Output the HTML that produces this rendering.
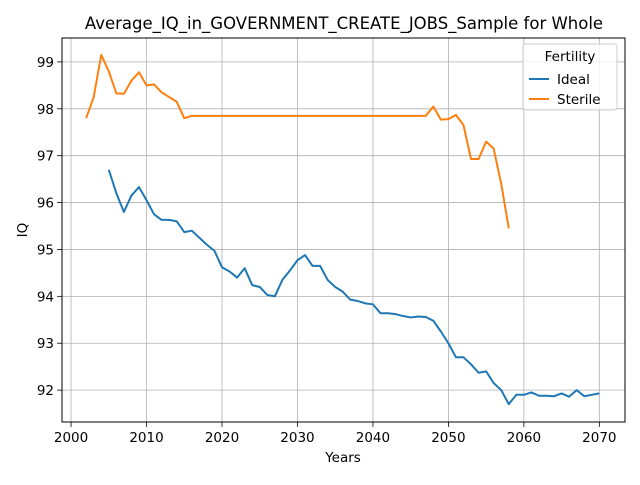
<!DOCTYPE html>
<html><head><meta charset="utf-8"><style>
body{margin:0;background:#fff;font-family:"Liberation Sans","DejaVu Sans",sans-serif}
</style></head><body>
<svg id="c" width="640" height="480" xmlns="http://www.w3.org/2000/svg" font-family="DejaVu Sans, Liberation Sans, sans-serif"></svg>
<script>
const years0 = 2002;
const sterileValues = [97.8,98.25,99.15,98.8,98.33,98.32,98.6,98.78,98.5,98.52,98.35,98.25,98.15,97.8,97.85,97.85,97.85,97.85,97.85,97.85,97.85,97.85,97.85,97.85,97.85,97.85,97.85,97.85,97.85,97.85,97.85,97.85,97.85,97.85,97.85,97.85,97.85,97.85,97.85,97.85,97.85,97.85,97.85,97.85,97.85,97.85,98.05,97.77,97.78,97.87,97.65,96.93,96.93,97.3,97.15,96.4,95.45];
const idealStart = 2005;
const idealValues = [96.7,96.2,95.8,96.15,96.33,96.05,95.75,95.63,95.63,95.6,95.37,95.4,95.25,95.1,94.97,94.62,94.53,94.4,94.6,94.24,94.2,94.03,94.0,94.35,94.55,94.77,94.88,94.65,94.65,94.35,94.2,94.1,93.93,93.9,93.85,93.83,93.64,93.64,93.62,93.58,93.55,93.57,93.56,93.48,93.25,93.0,92.7,92.7,92.55,92.37,92.4,92.15,92.0,91.7,91.9,91.9,91.95,91.88,91.88,91.87,91.93,91.86,92.0,91.87,91.9,91.93];
const xTicks = [2000,2010,2020,2030,2040,2050,2060,2070];
const yTicks = [92,93,94,95,96,97,98,99];

const L=62,R=625,T=38,B=422;
const xMin=1998.8,xMax=2073.4,yMin=91.32,yMax=99.51;
const X=v=>L+(v-xMin)/(xMax-xMin)*(R-L);
const Y=v=>B-(v-yMin)/(yMax-yMin)*(B-T);
const svg=document.getElementById('c');
const NS='http://www.w3.org/2000/svg';
function mk(tag,attrs,text){const e=document.createElementNS(NS,tag);for(const k in attrs)e.setAttribute(k,attrs[k]);if(text!==undefined)e.textContent=text;svg.appendChild(e);return e;}

xTicks.forEach(t=>{
  const g=mk('line',{x1:X(t),x2:X(t),y1:T,y2:B,stroke:'#b0b0b0','stroke-width':0.8});
  
  
  mk('line',{x1:X(t),x2:X(t),y1:B,y2:B+4.9,stroke:'#000','stroke-width':0.8});
  const l=mk('text',{x:X(t),y:B+20,'text-anchor':'middle','font-size':13.5},t);
  
  
});
yTicks.forEach(t=>{
  const g=mk('line',{x1:L,x2:R,y1:Y(t),y2:Y(t),stroke:'#b0b0b0','stroke-width':0.8});
  
  
  mk('line',{x1:L-4.9,x2:L,y1:Y(t),y2:Y(t),stroke:'#000','stroke-width':0.8});
  const l=mk('text',{x:L-8,y:Y(t)+5,'text-anchor':'end','font-size':13.5},t);
  
  
});

function line(start,vals,color,name){
  const d=vals.map((v,i)=>(i?'L':'M')+X(start+i).toFixed(2)+','+Y(v).toFixed(2)).join('');
  const p=mk('path',{d:d,fill:'none',stroke:color,'stroke-width':2,'stroke-linejoin':'round'});
  
  
}
line(idealStart,idealValues,'#1f77b4','ideal-line');
line(years0,sterileValues,'#ff7f0e','sterile-line');

const f=mk('rect',{x:L,y:T,width:R-L,height:B-T,fill:'none',stroke:'#000','stroke-width':1});


</script>
<svg width="640" height="480" style="position:absolute;left:0;top:0" font-family="DejaVu Sans, Liberation Sans, sans-serif">
<text x="344" y="29" text-anchor="middle" font-size="16.5">Average_IQ_in_GOVERNMENT_CREATE_JOBS_Sample for Whole</text>
<text x="343" y="462" text-anchor="middle" font-size="13.5">Years</text>
<text x="27" y="230" text-anchor="middle" font-size="13.5" transform="rotate(-90 27 230)">IQ</text>
<g>
<rect x="523" y="44" width="94" height="66" rx="3" fill="#fff" fill-opacity="0.8" stroke="#ccc" stroke-width="1"/>
<text x="570" y="61" text-anchor="middle" font-size="13.5">Fertility</text>
<line x1="529" x2="549" y1="79" y2="79" stroke="#1f77b4" stroke-width="2"/>
<text x="557" y="84" font-size="13.5">Ideal</text>
<line x1="529" x2="549" y1="99" y2="99" stroke="#ff7f0e" stroke-width="2"/>
<text x="557" y="104" font-size="13.5">Sterile</text>
</g>
</svg>
</body></html>
